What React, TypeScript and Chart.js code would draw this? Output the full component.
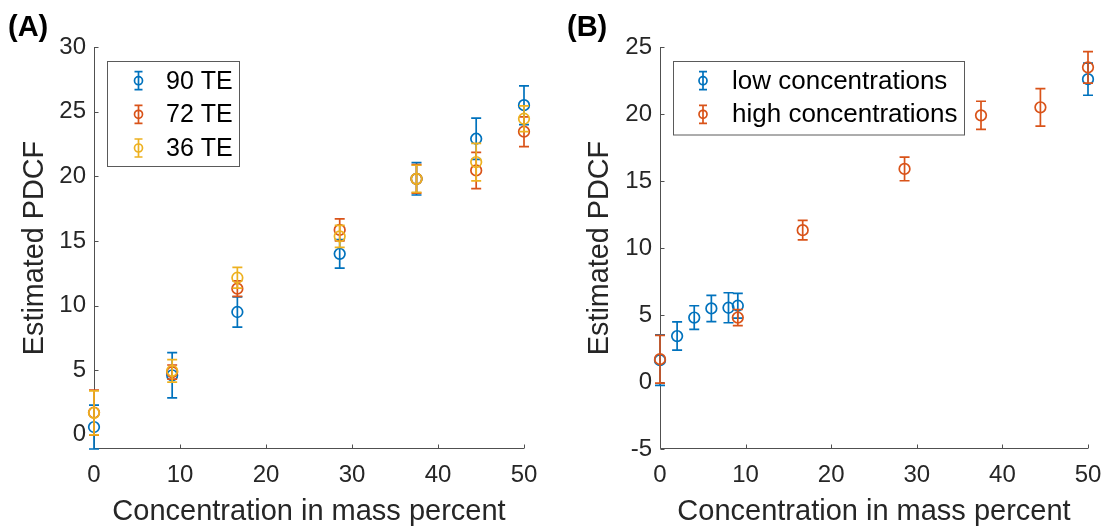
import React, { useEffect, useRef } from "react";
import { Chart, registerables } from "chart.js";

Chart.register(...registerables);

// ---------- data ----------
const xTicks = [0, 10, 20, 30, 40, 50];
const yTicksA = [0, 5, 10, 15, 20, 25, 30];
const yTicksB = [-5, 0, 5, 10, 15, 20, 25];

// Panel A
const concA = [0, 9.09, 16.67, 28.57, 37.5, 44.44, 50];
const pdcf90 = [0.6, 4.6, 9.5, 14.0, 19.8, 22.9, 25.5];
const err90 = [1.7, 1.75, 1.17, 1.1, 1.25, 1.6, 1.5];
const pdcf72 = [1.72, 4.85, 11.3, 15.85, 19.8, 20.45, 23.45];
const err72 = [1.74, 0.55, 0.6, 0.85, 1.1, 1.4, 1.15];
const pdcf36 = [1.7, 4.95, 12.15, 15.35, 19.8, 21.1, 24.45];
const err36 = [1.7, 0.87, 0.8, 0.85, 1.05, 1.45, 1.0];
const labelsA = ["90 TE", "72 TE", "36 TE"];

// Panel B
const concLow = [0, 2, 4, 6, 8, 9.09, 50];
const pdcfLow = [1.63, 3.43, 4.81, 5.49, 5.54, 5.69, 22.6];
const errLow = [1.88, 1.05, 0.88, 0.98, 1.12, 0.93, 1.2];
const concHigh = [0, 9.09, 16.67, 28.57, 37.5, 44.44, 50];
const pdcfHigh = [1.7, 4.81, 11.33, 15.9, 19.9, 20.5, 23.48];
const errHigh = [1.78, 0.6, 0.73, 0.88, 1.05, 1.4, 1.18];
const labelsB = ["low concentrations", "high concentrations"];

const xTitle = "Concentration in mass percent";
const yTitle = "Estimated PDCF";

// ---------- styles ----------
const FONT = "'Liberation Sans', Arial, Helvetica, sans-serif";
const BLUE = "#0072BD";
const RED = "#D95319";
const YELLOW = "#EDB120";
const TEXT = "#262626";
const AXIS = "#505050";

const errorBarPlugin = {
  id: "errorBars",
  beforeDatasetDraw(chart: any, args: any) {
    const ds: any = chart.data.datasets[args.index];
    const errs: number[] = ds.errors;
    if (!errs) return;
    const { ctx, chartArea } = chart;
    const xs = chart.scales.x;
    const ys = chart.scales.y;
    ctx.save();
    ctx.beginPath();
    ctx.rect(0, chartArea.top - 1, chart.width, chartArea.bottom - chartArea.top + 2);
    ctx.clip();
    ctx.strokeStyle = ds.borderColor;
    ctx.lineWidth = 1.7;
    ds.data.forEach((p: any, i: number) => {
      const px = xs.getPixelForValue(p.x);
      const t = ys.getPixelForValue(p.y + errs[i]);
      const b = ys.getPixelForValue(p.y - errs[i]);
      ctx.beginPath();
      ctx.moveTo(px, t);
      ctx.lineTo(px, b);
      ctx.moveTo(px - 5, t);
      ctx.lineTo(px + 5, t);
      ctx.moveTo(px - 5, b);
      ctx.lineTo(px + 5, b);
      ctx.stroke();
    });
    ctx.restore();
  },
};

const axesPlugin = {
  id: "matlabAxes",
  beforeDatasetsDraw(chart: any) {
    const { ctx, chartArea } = chart;
    const xs = chart.scales.x;
    const ys = chart.scales.y;
    const L = Math.round(chartArea.left) + 0.5;
    const B = Math.round(chartArea.bottom) - 0.5;
    ctx.save();
    ctx.strokeStyle = AXIS;
    ctx.lineWidth = 1;
    ctx.beginPath();
    ctx.moveTo(L, chartArea.top);
    ctx.lineTo(L, B);
    ctx.lineTo(chartArea.right, B);
    xs.ticks.forEach((t: any) => {
      const px = Math.round(xs.getPixelForValue(t.value)) + 0.5;
      ctx.moveTo(px, B);
      ctx.lineTo(px, B - 4);
    });
    ys.ticks.forEach((t: any) => {
      const py = Math.round(ys.getPixelForValue(t.value)) + 0.5;
      ctx.moveTo(L, py);
      ctx.lineTo(L + 4, py);
    });
    ctx.stroke();
    ctx.restore();
  },
};

const decorPlugin = {
  id: "decor",
  afterDraw(chart: any, _args: any, opts: any) {
    const { ctx } = chart;
    ctx.save();
    // panel label
    ctx.font = `bold 29px ${FONT}`;
    ctx.fillStyle = "#000";
    ctx.textAlign = "left";
    ctx.textBaseline = "alphabetic";
    ctx.fillText(opts.panel, opts.panelX, opts.panelY);
    // legend box
    const lg = opts.legend;
    ctx.fillStyle = "#fff";
    ctx.fillRect(lg.x0, lg.y0, lg.x1 - lg.x0, lg.y1 - lg.y0);
    ctx.strokeStyle = "#5a5a5a";
    ctx.lineWidth = 1;
    ctx.strokeRect(Math.round(lg.x0) + 0.5, Math.round(lg.y0) + 0.5, lg.x1 - lg.x0, lg.y1 - lg.y0);
    chart.data.datasets.forEach((ds: any, i: number) => {
      const y = lg.rows[i];
      const mx = lg.markerX;
      ctx.strokeStyle = ds.borderColor;
      ctx.lineWidth = 1.7;
      ctx.beginPath();
      ctx.moveTo(mx, y - 9);
      ctx.lineTo(mx, y + 9);
      ctx.moveTo(mx - 4, y - 9);
      ctx.lineTo(mx + 4, y - 9);
      ctx.moveTo(mx - 4, y + 9);
      ctx.lineTo(mx + 4, y + 9);
      ctx.stroke();
      ctx.beginPath();
      ctx.arc(mx, y, 4, 0, Math.PI * 2);
      ctx.stroke();
      ctx.fillStyle = "#000";
      ctx.font = `${lg.fontSize}px ${FONT}`;
      ctx.textAlign = "left";
      ctx.textBaseline = "middle";
      ctx.fillText(ds.label, lg.textX, y + 1);
    });
    ctx.restore();
  },
};

function makeDataset(label: string, xs: number[], ys: number[], errs: number[], color: string, order: number) {
  return {
    label,
    data: xs.map((x, i) => ({ x, y: ys[i] })),
    errors: errs,
    borderColor: color,
    backgroundColor: "rgba(0,0,0,0)",
    pointStyle: "circle",
    pointRadius: 5.3,
    pointHoverRadius: 5.3,
    pointBorderWidth: 1.7,
    showLine: false,
    clip: false,
    order,
  } as any;
}

function makeOptions(cfg: any) {
  return {
    responsive: false,
    animation: false,
    events: [],
    layout: { padding: { left: 0, top: 47, right: cfg.padRight, bottom: 0 } },
    plugins: {
      legend: { display: false },
      tooltip: { enabled: false },
      decor: cfg.decor,
    },
    scales: {
      x: {
        type: "linear",
        min: 0,
        max: 50,
        afterBuildTicks: (s: any) => {
          s.ticks = xTicks.map((v) => ({ value: v }));
        },
        afterFit: (s: any) => {
          s.height = 78;
          s.paddingLeft = 0;
          s.paddingRight = 0;
        },
        grid: { display: false, drawTicks: false },
        border: { display: false },
        ticks: {
          autoSkip: false,
          maxRotation: 0,
          padding: 12,
          color: TEXT,
          font: { family: FONT, size: 24 },
        },
        title: {
          display: true,
          text: xTitle,
          color: TEXT,
          font: { family: FONT, size: 29, lineHeight: 1 },
          padding: { top: 0, bottom: 0.5 },
        },
      },
      y: {
        type: "linear",
        min: cfg.yMin,
        max: cfg.yMax,
        afterBuildTicks: (s: any) => {
          s.ticks = cfg.yTicks.map((v: number) => ({ value: v }));
        },
        afterFit: (s: any) => {
          s.width = cfg.yWidth;
          s.paddingTop = 0;
          s.paddingBottom = 0;
        },
        grid: { display: false, drawTicks: false },
        border: { display: false },
        ticks: {
          autoSkip: false,
          padding: 8,
          color: TEXT,
          font: { family: FONT, size: 24 },
        },
        title: {
          display: true,
          text: yTitle,
          color: TEXT,
          font: { family: FONT, size: 28.8, lineHeight: 1 },
          padding: { top: cfg.yTitlePad, bottom: 0 },
        },
      },
    },
  } as any;
}

function PanelChart({ datasets, options, left }: { datasets: any[]; options: any; left: number }) {
  const ref = useRef<HTMLCanvasElement | null>(null);
  useEffect(() => {
    if (!ref.current) return;
    const chart = new Chart(ref.current, {
      type: "scatter",
      data: { datasets },
      options,
      plugins: [errorBarPlugin, axesPlugin, decorPlugin],
    } as any);
    return () => chart.destroy();
  }, []);
  return (
    <canvas
      ref={ref}
      width={551}
      height={527}
      style={{ position: "absolute", left, top: 0, width: 551, height: 527 }}
    />
  );
}

export default function App() {
  const dsA = [
    makeDataset(labelsA[0], concA, pdcf90, err90, BLUE, 2),
    makeDataset(labelsA[1], concA, pdcf72, err72, RED, 1),
    makeDataset(labelsA[2], concA, pdcf36, err36, YELLOW, 0),
  ];
  const dsB = [
    makeDataset(labelsB[0], concLow, pdcfLow, errLow, BLUE, 1),
    makeDataset(labelsB[1], concHigh, pdcfHigh, errHigh, RED, 0),
  ];
  const optA = makeOptions({
    padRight: 27,
    yMin: -1.1,
    yMax: 30,
    yTicks: yTicksA,
    yWidth: 94,
    yTitlePad: 20.3,
    decor: {
      panel: "(A)",
      panelX: 8,
      panelY: 36,
      legend: { x0: 107, y0: 61, x1: 239, y1: 166, markerX: 138.5, textX: 166, fontSize: 25, rows: [80.7, 114.3, 148] },
    },
  });
  const optB = makeOptions({
    padRight: 14,
    yMin: -5,
    yMax: 25,
    yTicks: yTicksB,
    yWidth: 109,
    yTitlePad: 34.5,
    decor: {
      panel: "(B)",
      panelX: 16,
      panelY: 36,
      legend: { x0: 122, y0: 61, x1: 413, y1: 134.5, markerX: 152, textX: 181, fontSize: 26, rows: [80.7, 114.3] },
    },
  });
  return (
    <div style={{ position: "absolute", left: 0, top: 0, width: 1102, height: 527, background: "#fff", overflow: "hidden" }}>
      <PanelChart datasets={dsA} options={optA} left={0} />
      <PanelChart datasets={dsB} options={optB} left={551} />
    </div>
  );
}
